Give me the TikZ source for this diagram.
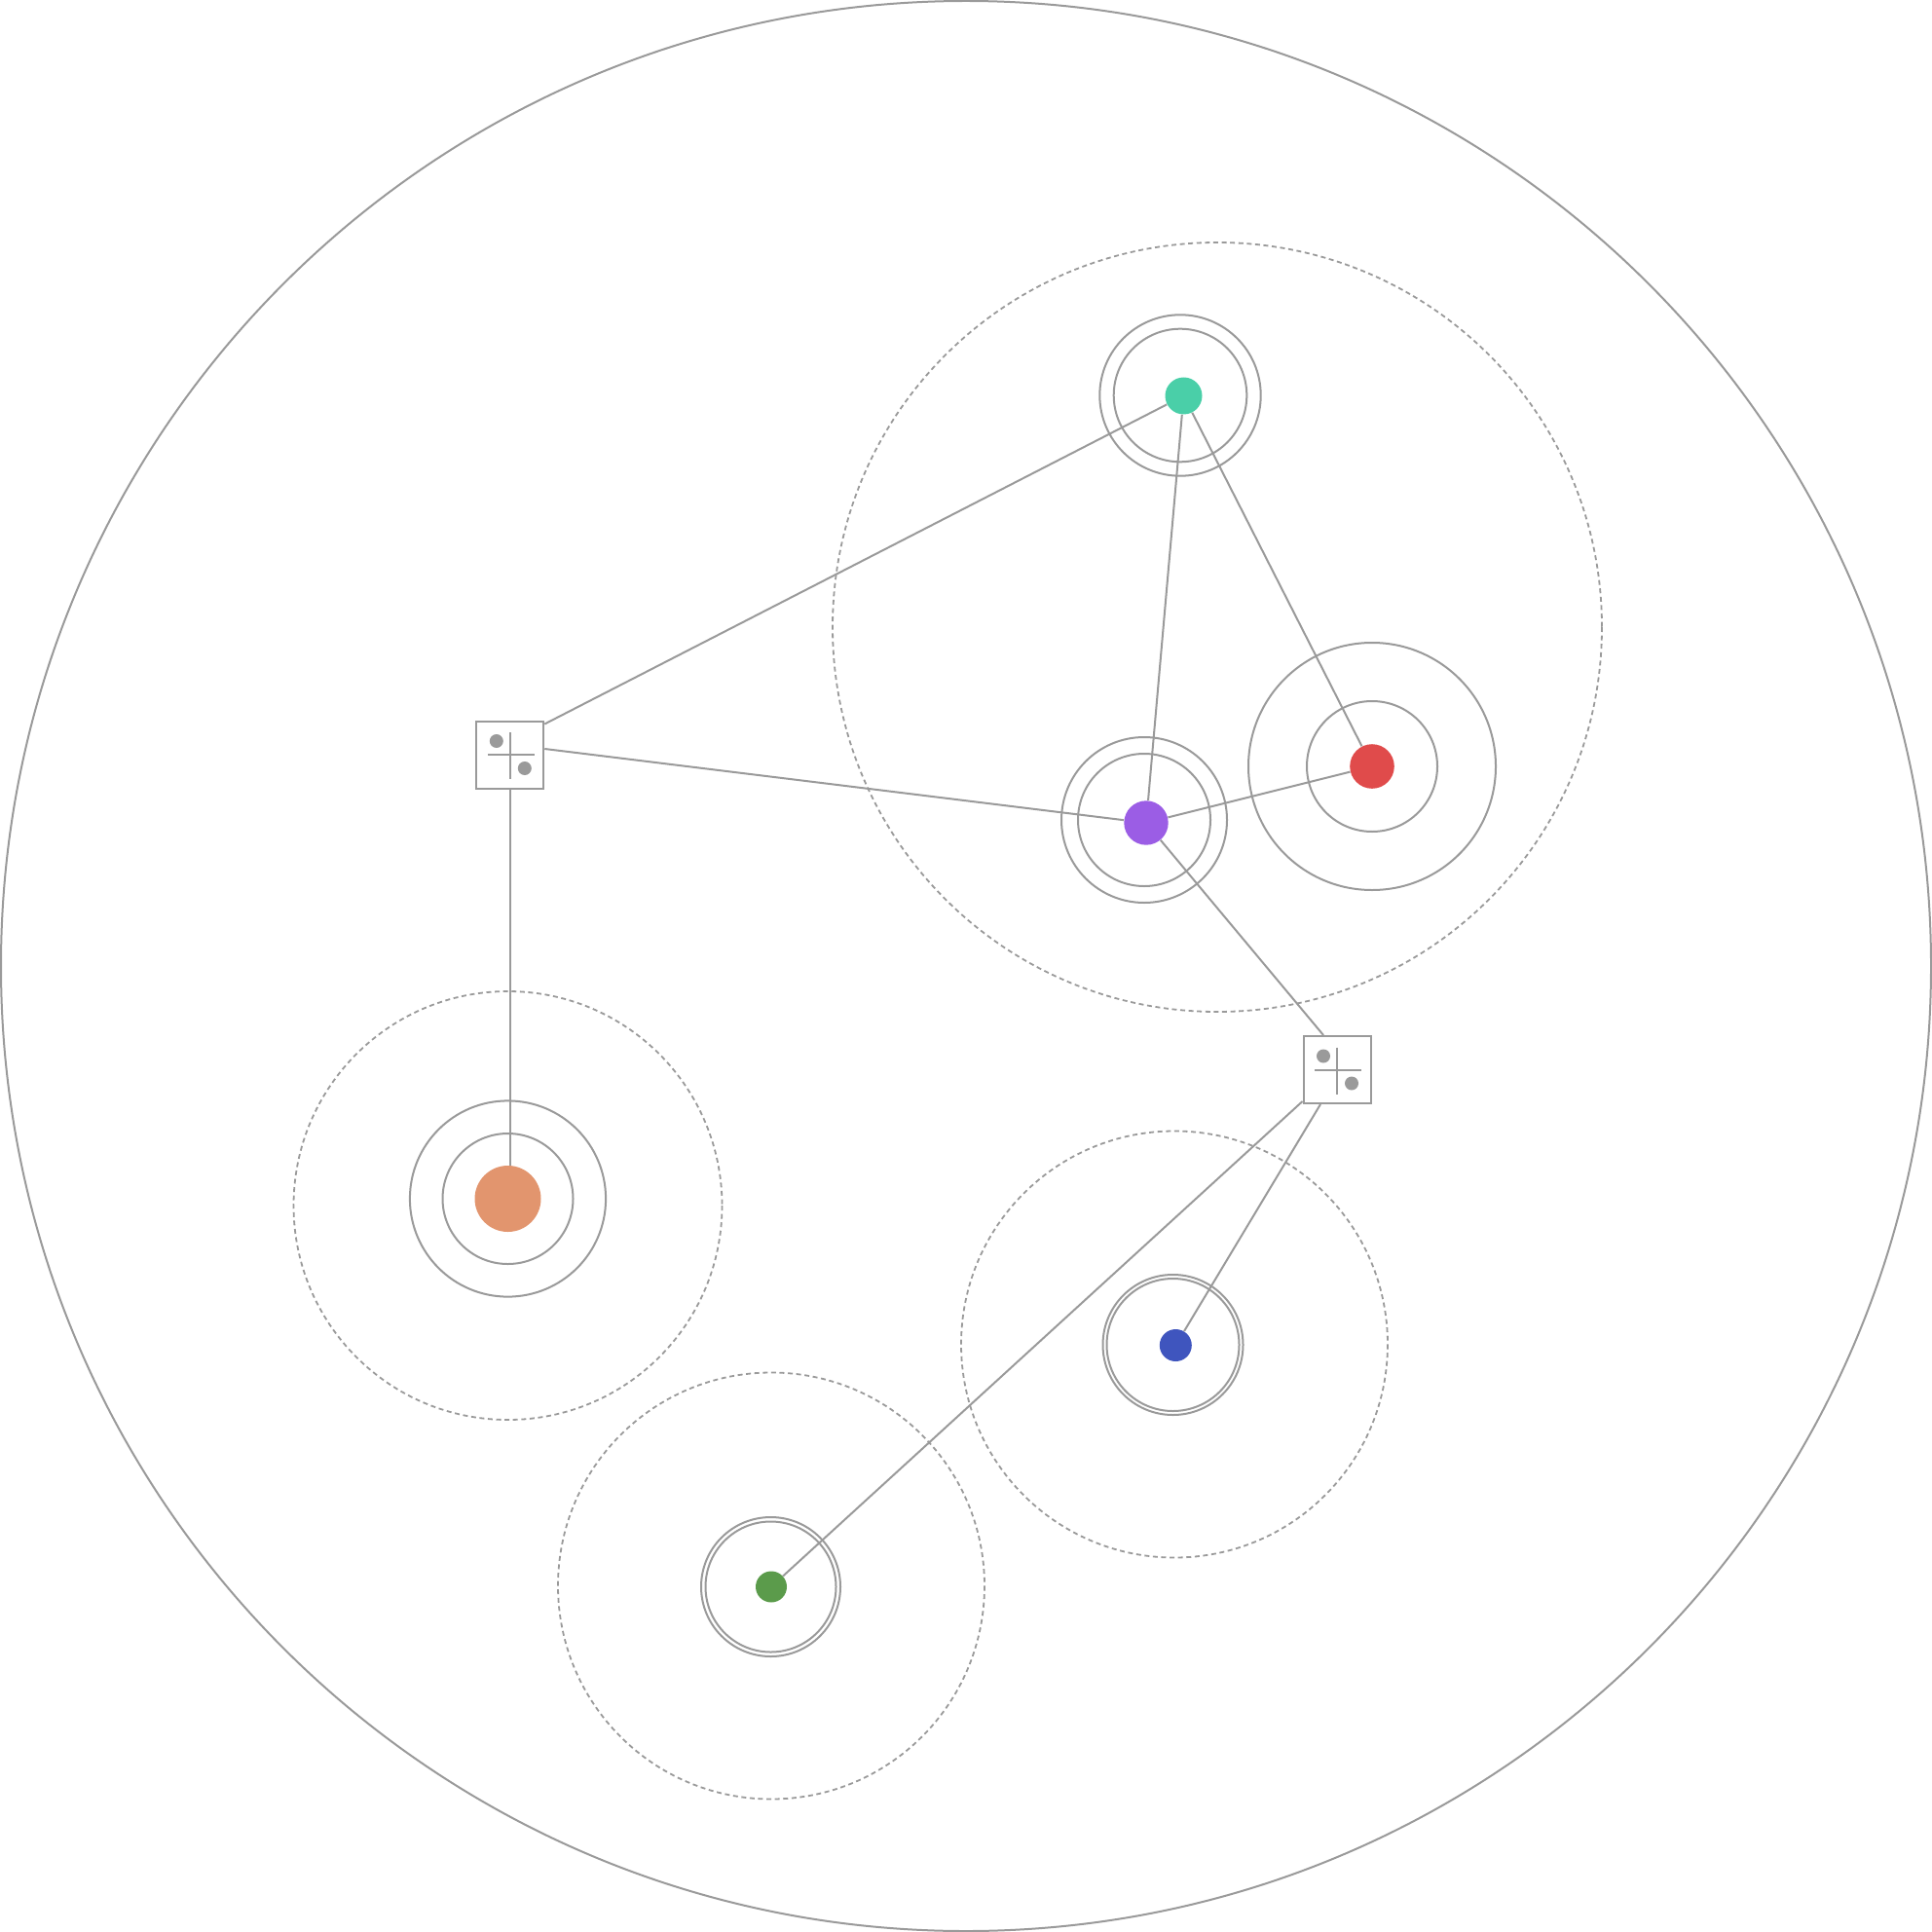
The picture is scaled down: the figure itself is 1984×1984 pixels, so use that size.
\documentclass[tikz,border=0pt]{standalone}
\usepackage{xcolor}
\usetikzlibrary{calc}

\definecolor{linegray}{HTML}{9A9A9A}
\definecolor{mint}{HTML}{4ACFA8}
\definecolor{violet}{HTML}{9B5DE5}
\definecolor{coral}{HTML}{E04B4B}
\definecolor{peach}{HTML}{E2956E}
\definecolor{indigo}{HTML}{3F55BE}
\definecolor{leaf}{HTML}{5B9B4B}

\begin{document}
\begin{tikzpicture}[x=0.5pt, y=-0.5pt,
  ring/.style={draw=linegray, line width=1pt},
  zone/.style={draw=linegray, line width=0.9pt, dash pattern=on 2.5pt off 1.8pt},
  peer/.style={circle, inner sep=0pt, minimum size=#1},
  hub/.style={draw=linegray, line width=1pt, fill=white, minimum size=34.5pt, inner sep=0pt},
  link/.style={draw=linegray, line width=1pt}
]
  \useasboundingbox (0,0) rectangle (1984,1984);

  % outer boundary and dashed zones
  \draw[ring] (992,992) circle (991);
  \draw[zone] (1250,644) circle (395);
  \draw[zone] (521.5,1238) circle (220);
  \draw[zone] (1206,1380.5) circle (219);
  \draw[zone] (792,1628.5) circle (219);

  % rings
  \draw[ring] (1212,406) circle (82.7) circle (68.3);
  \draw[ring] (1175,842) circle (85) circle (68);
  \draw[ring] (1409,787) circle (127) circle (67);
  \draw[ring] (521.5,1231) circle (100.6) circle (67);
  \draw[ring] (1204.5,1381) circle (72) circle (68);
  \draw[ring] (791.5,1629.5) circle (71.5) circle (67);

  % peers
  \node[peer=19pt, fill=mint] (top) at (1215.5,406.5) {};
  \node[peer=22.7pt, fill=violet] (mid) at (1177,845) {};
  \node[peer=22.8pt, fill=coral] (right) at (1409,787) {};
  \node[peer=34pt, fill=peach] (left) at (521.5,1231) {};
  \node[peer=16.5pt, fill=indigo] (lowright) at (1207.3,1381.5) {};
  \node[peer=16pt, fill=leaf] (bottom) at (792,1629.5) {};

  % hubs
  \node[hub] (hubA) at (523.8,775) {};
  \node[hub] (hubB) at (1373,1098.5) {};
  \foreach \h in {hubA, hubB} {
    \draw[link] ($(\h)+(-23,0)$) -- ($(\h)+(25,0)$);
    \draw[link] ($(\h)+(0,-23)$) -- ($(\h)+(0,25)$);
    \fill[linegray] ($(\h)+(-14,-14)$) circle (7);
    \fill[linegray] ($(\h)+(15,14)$) circle (7);
  }

  % links
  \draw[link] ($(hubA.north east)+(0,4)$) -- (top);
  \draw[link] ($(hubA.east)+(0,-6)$) -- (mid);
  \draw[link] (hubA.south) -- (hubA.south |- left.north);
  \draw[link] (top) -- (mid);
  \draw[link] (top) -- (right);
  \draw[link] (mid) -- (right);
  \draw[link] (mid) -- ($(hubB.north)+(-14,0)$);
  \draw[link] ($(hubB.south west)+(0,-3)$) -- (bottom);
  \draw[link] ($(hubB.south)+(-17,0)$) -- (lowright);
\end{tikzpicture}
\end{document}
